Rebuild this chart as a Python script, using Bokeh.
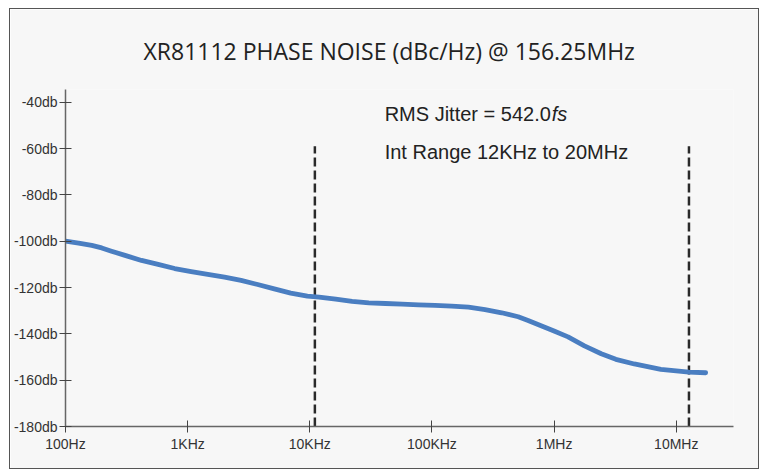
from bokeh.plotting import figure
from bokeh.models import FixedTicker, Title
from bokeh.core.properties import value
from bokeh.embed import file_html
from bokeh.resources import INLINE

# Data
freq_hz = [100, 128, 164, 198, 238, 307, 419, 573, 783, 1069, 1462, 2004, 2737,
           3741, 5117, 6982, 9550, 11900, 16300, 22200, 30400, 41600, 56900, 77800,
           106000, 145000, 199000, 272000, 372000, 508000, 612000, 1.01e6, 1.3e6,
           1.77e6, 2.43e6, 3.2e6, 4.53e6, 7.48e6, 1.27e7, 1.74e7]
noise_db = [-100.0, -100.8, -101.8, -102.9, -104.3, -106.1, -108.3, -110.0, -111.8,
            -113.1, -114.3, -115.5, -116.9, -118.7, -120.6, -122.4, -123.7, -124.1,
            -125.0, -126.0, -126.6, -126.9, -127.2, -127.5, -127.7, -128.0, -128.5,
            -129.5, -130.9, -132.6, -134.2, -138.9, -141.3, -145.2, -148.6, -151.0,
            -153.0, -155.3, -156.5, -156.8]
marker_freq = [11000, 1.27e7]
marker_top = -59.0
x_ticks = [100, 1e3, 1e4, 1e5, 1e6, 1e7]
x_tick_labels = ["100Hz", "1KHz", "10KHz", "100KHz", "1MHz", "10MHz"]
y_ticks = [-40, -60, -80, -100, -120, -140, -160, -180]
y_tick_labels = ["-40db", "-60db", "-80db", "-100db", "-120db", "-140db", "-160db", "-180db"]
title_text = "XR81112 PHASE NOISE (dBc/Hz) @ 156.25MHz"
jitter_text = "RMS Jitter = 542.0"
jitter_unit = "fs"
range_text = "Int Range 12KHz to 20MHz"

BG = "#f7f7f7"
p = figure(width=750, height=461, x_axis_type="log",
           x_range=(100, 2.94e7), y_range=(-180, -34.5),
           output_backend="svg", toolbar_location=None,
           min_border_left=54, min_border_right=27, min_border_top=79, min_border_bottom=44)
p.styles = {"border": "1px solid #555", "margin-left": "9px", "margin-top": "8px"}
p.background_fill_color = BG
p.border_fill_color = BG
p.outline_line_color = None
p.grid.visible = False

t = Title(text=title_text, align="left", offset=78,
          text_font="Open Sans", text_font_size="23px", text_font_style="normal",
          text_color="#222222", standoff=46)
p.add_layout(t, "above")

for ax in (p.xaxis[0], p.yaxis[0]):
    ax.axis_line_color = "#666666"
    ax.axis_line_width = 1.5
    ax.major_tick_line_color = "#444444"
    ax.major_tick_in = 6
    ax.major_tick_out = 6
    ax.minor_tick_line_color = None
    ax.major_label_text_font = "Liberation Sans"
    ax.major_label_text_font_size = "14px"
    ax.major_label_text_color = "#333333"

p.xaxis.ticker = FixedTicker(ticks=x_ticks)
p.xaxis.major_label_overrides = {t_: l for t_, l in zip(x_ticks, x_tick_labels)}
p.xaxis.major_label_standoff = 3
p.yaxis.ticker = FixedTicker(ticks=y_ticks)
p.yaxis.major_label_overrides = {t_: l for t_, l in zip(y_ticks, y_tick_labels)}
p.yaxis.major_label_standoff = 2

p.segment(x0=marker_freq, x1=marker_freq, y0=[-180] * 2, y1=[marker_top] * 2,
          line_color="#2a2a2a", line_width=2.5, line_dash="9 4")

p.line(freq_hz, noise_db, line_color="#4a7ec1", line_width=4.8,
       line_join="round", line_cap="round")

p.text(x=[41000], y=[-45.2], text=[jitter_text], text_font=value("Liberation Sans"),
       text_font_size="20px", text_color="#222222", text_baseline="middle")
p.text(x=[41000], y=[-45.2], text=[jitter_unit], text_font=value("Liberation Sans"),
       text_font_size="20px", text_font_style="italic", text_color="#222222",
       text_baseline="middle", x_offset=167)
p.text(x=[41000], y=[-61.6], text=[range_text], text_font=value("Liberation Sans"),
       text_font_size="20px", text_color="#222222", text_baseline="middle")

open("out.html", "w").write(file_html(p, INLINE))
